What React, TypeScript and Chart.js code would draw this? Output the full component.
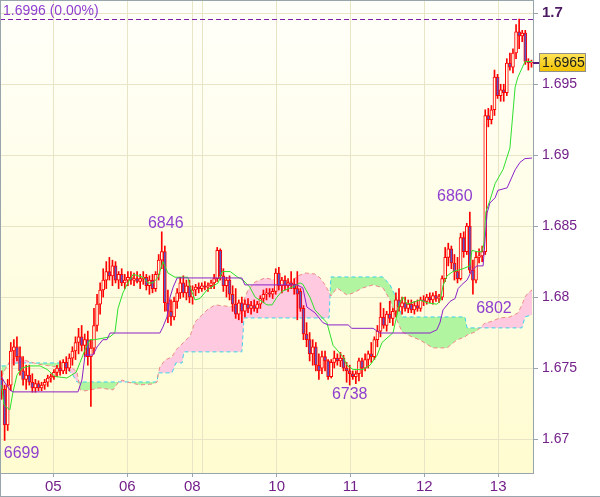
import React, { useEffect, useRef } from 'react';
import { Chart, registerables } from 'chart.js';
Chart.register(...registerables);

// ---- Hourly candles (bar index 0..172) ----
const opens = [
  1.6742,1.6735,1.6710,1.6738,1.6762,1.6765,1.6758,1.6748,1.6742,1.6745,
  1.6740,1.6736,1.6739,1.6736,1.6738,1.6740,1.6743,1.6744,1.6747,1.6750,
  1.6748,1.6754,1.6750,1.6757,1.6762,1.6768,1.6772,1.6766,1.6770,1.6758,
  1.6764,1.6780,1.6795,1.6805,1.6812,1.6818,1.6815,1.6822,1.6812,1.6816,
  1.6810,1.6812,1.6814,1.6812,1.6813,1.6811,1.6813,1.6814,1.6808,1.6812,
  1.6806,1.6816,1.6826,1.6832,1.6796,1.6790,1.6786,1.6797,1.6803,1.6810,
  1.6803,1.6808,1.6800,1.6805,1.6807,1.6806,1.6808,1.6807,1.6808,1.6810,
  1.6813,1.6833,1.6815,1.6808,1.6812,1.6802,1.6795,1.6788,1.6796,1.6790,
  1.6795,1.6792,1.6794,1.6792,1.6795,1.6799,1.6802,1.6803,1.6802,1.6804,
  1.6817,1.6808,1.6812,1.6808,1.6810,1.6809,1.6806,1.6804,1.6792,1.6774,
  1.6770,1.6760,1.6765,1.6752,1.6750,1.6758,1.6755,1.6744,1.6754,1.6757,
  1.6755,1.6757,1.6750,1.6748,1.6746,1.6744,1.6746,1.6755,1.6750,1.6756,
  1.6760,1.6758,1.6770,1.6776,1.6786,1.6780,1.6788,1.6785,1.6790,1.6798,
  1.6793,1.6796,1.6792,1.6795,1.6791,1.6794,1.6792,1.6798,1.6797,1.6800,
  1.6798,1.6801,1.6799,1.6800,1.6813,1.6828,1.6834,1.6824,1.6818,1.6813,
  1.6842,1.6832,1.6850,1.6819,1.6812,1.6828,1.6829,1.6832,1.6928,1.6925,
  1.6932,1.6955,1.6942,1.6946,1.6944,1.6965,1.6962,1.6972,1.6987,1.6984,
  1.6986,1.6966,1.6965,
];
const highs = [
  1.6748,1.6738,1.6742,1.6768,1.6770,1.6772,1.6765,1.6758,1.6752,1.6752,
  1.6746,1.6742,1.6741,1.6740,1.6742,1.6745,1.6746,1.6749,1.6752,1.6755,
  1.6756,1.6758,1.6760,1.6765,1.6772,1.6778,1.6780,1.6774,1.6776,1.6770,
  1.6792,1.6802,1.6810,1.6820,1.6825,1.6828,1.6826,1.6825,1.6818,1.6820,
  1.6816,1.6818,1.6818,1.6817,1.6818,1.6816,1.6818,1.6816,1.6815,1.6816,
  1.6818,1.6830,1.6846,1.6836,1.6805,1.6798,1.6800,1.6806,1.6814,1.6815,
  1.6812,1.6812,1.6808,1.6809,1.6810,1.6810,1.6811,1.6810,1.6812,1.6816,
  1.6835,1.6834,1.6820,1.6814,1.6815,1.6808,1.6806,1.6798,1.6800,1.6798,
  1.6799,1.6797,1.6798,1.6797,1.6801,1.6805,1.6806,1.6806,1.6806,1.6820,
  1.6821,1.6814,1.6815,1.6813,1.6818,1.6813,1.6818,1.6806,1.6794,1.6782,
  1.6775,1.6770,1.6768,1.6760,1.6762,1.6762,1.6756,1.6756,1.6762,1.6760,
  1.6761,1.6759,1.6754,1.6752,1.6748,1.6748,1.6757,1.6757,1.6760,1.6762,
  1.6768,1.6772,1.6780,1.6796,1.6792,1.6790,1.6797,1.6792,1.6803,1.6806,
  1.6800,1.6800,1.6798,1.6798,1.6797,1.6798,1.6800,1.6801,1.6802,1.6803,
  1.6803,1.6804,1.6802,1.6815,1.6835,1.6838,1.6836,1.6830,1.6828,1.6845,
  1.6846,1.6852,1.6860,1.6826,1.6832,1.6834,1.6836,1.6932,1.6933,1.6935,
  1.6960,1.6957,1.6950,1.6950,1.6968,1.6972,1.6975,1.6992,1.6996,1.6988,
  1.6988,1.6968,1.6967,
];
const lows = [
  1.6728,1.6699,1.6706,1.6734,1.6752,1.6755,1.6745,1.6738,1.6735,1.6738,
  1.6733,1.6733,1.6734,1.6734,1.6735,1.6737,1.6740,1.6742,1.6744,1.6745,
  1.6746,1.6746,1.6748,1.6752,1.6756,1.6760,1.6762,1.6758,1.6752,1.6723,
  1.6760,1.6776,1.6788,1.6800,1.6806,1.6812,1.6808,1.6810,1.6806,1.6808,
  1.6806,1.6808,1.6809,1.6808,1.6810,1.6806,1.6809,1.6805,1.6802,1.6803,
  1.6804,1.6812,1.6820,1.6790,1.6782,1.6780,1.6784,1.6792,1.6799,1.6800,
  1.6798,1.6796,1.6795,1.6801,1.6803,1.6804,1.6805,1.6804,1.6806,1.6806,
  1.6811,1.6812,1.6804,1.6800,1.6798,1.6790,1.6785,1.6784,1.6782,1.6786,
  1.6789,1.6788,1.6790,1.6789,1.6792,1.6796,1.6798,1.6800,1.6799,1.6802,
  1.6805,1.6803,1.6805,1.6804,1.6806,1.6802,1.6784,1.6790,1.6770,1.6765,
  1.6755,1.6752,1.6748,1.6742,1.6746,1.6748,1.6742,1.6743,1.6750,1.6752,
  1.6751,1.6748,1.6740,1.6738,1.6742,1.6739,1.6741,1.6744,1.6748,1.6750,
  1.6754,1.6756,1.6765,1.6772,1.6778,1.6776,1.6782,1.6780,1.6786,1.6790,
  1.6788,1.6790,1.6789,1.6789,1.6788,1.6790,1.6790,1.6794,1.6795,1.6796,
  1.6795,1.6797,1.6796,1.6798,1.6811,1.6822,1.6820,1.6812,1.6810,1.6812,
  1.6828,1.6830,1.6817,1.6802,1.6810,1.6824,1.6825,1.6830,1.6920,1.6922,
  1.6928,1.6940,1.6938,1.6938,1.6942,1.6960,1.6958,1.6968,1.6975,1.6980,
  1.6964,1.6960,1.6962,
];
const closes = [
  1.6735,1.6710,1.6738,1.6762,1.6765,1.6758,1.6748,1.6742,1.6745,1.6740,
  1.6736,1.6739,1.6736,1.6738,1.6740,1.6743,1.6744,1.6747,1.6750,1.6748,
  1.6754,1.6750,1.6757,1.6762,1.6768,1.6772,1.6766,1.6770,1.6758,1.6764,
  1.6780,1.6795,1.6805,1.6812,1.6818,1.6815,1.6822,1.6812,1.6816,1.6810,
  1.6812,1.6814,1.6812,1.6813,1.6811,1.6813,1.6814,1.6808,1.6812,1.6806,
  1.6816,1.6826,1.6832,1.6796,1.6790,1.6786,1.6797,1.6803,1.6810,1.6803,
  1.6808,1.6800,1.6805,1.6807,1.6806,1.6808,1.6807,1.6808,1.6810,1.6813,
  1.6833,1.6815,1.6808,1.6812,1.6802,1.6795,1.6788,1.6796,1.6790,1.6795,
  1.6792,1.6794,1.6792,1.6795,1.6799,1.6802,1.6803,1.6802,1.6804,1.6817,
  1.6808,1.6812,1.6808,1.6810,1.6809,1.6806,1.6802,1.6792,1.6774,1.6770,
  1.6760,1.6765,1.6752,1.6748,1.6758,1.6755,1.6744,1.6754,1.6757,1.6755,
  1.6757,1.6750,1.6748,1.6746,1.6744,1.6746,1.6755,1.6750,1.6756,1.6760,
  1.6758,1.6770,1.6776,1.6786,1.6780,1.6788,1.6785,1.6790,1.6798,1.6793,
  1.6796,1.6792,1.6795,1.6791,1.6794,1.6792,1.6798,1.6797,1.6800,1.6798,
  1.6801,1.6799,1.6800,1.6813,1.6828,1.6834,1.6824,1.6818,1.6813,1.6842,
  1.6832,1.6850,1.6819,1.6812,1.6828,1.6829,1.6832,1.6928,1.6925,1.6932,
  1.6955,1.6942,1.6946,1.6944,1.6965,1.6962,1.6972,1.6987,1.6984,1.6986,
  1.6966,1.6965,1.6965,
];

// ---- Tenkan (green) ----
const tenkanIdx = [0,0.8,2.7,3.7,5.0,6.6,9.2,12.5,14.8,17.4,21.2,24.2,25.5,27.1,28.7,30.3,35.2,36.8,37.8,39.4,41.0,42.7,45.9,47.5,49.2,50.8,52.4,54.0,56.3,60.5,61.2,62.8,64.4,66.7,70.3,71.6,74.2,76.7,78.4,80.6,82.3,86.2,87.8,89.4,91.0,94.3,96.9,97.8,100.1,101.7,105.6,107.6,110.8,112.1,114.1,117.3,119.6,121.9,123.5,126.1,127.1,128.7,129.3,130.3,131.6,133.2,135.8,138.1,141.3,142.3,143.3,144.6,146.5,149.8,152.0,152.7,154.3,155.9,156.6,157.2,158.5,160.2,162.8,165.0,166.7,167.6,169.9,172.2];
const tenkanVal = [1.6738,1.6724,1.67205,1.6733,1.6745,1.6750,1.67515,1.67515,1.6749,1.6744,1.6743,1.6747,1.6754,1.6763,1.6770,1.6770,1.6772,1.6775,1.6792,1.6803,1.6810,1.6816,1.6814,1.6810,1.6810,1.6814,1.6825,1.6817,1.6814,1.6814,1.6807,1.6798,1.6799,1.6805,1.6810,1.6818,1.6818,1.6814,1.6812,1.6807,1.6800,1.67945,1.67945,1.6800,1.6804,1.6807,1.6810,1.6809,1.6800,1.6791,1.6782,1.6766,1.6758,1.6752,1.6749,1.6749,1.6752,1.6759,1.6768,1.6773,1.6775,1.6791,1.6796,1.6800,1.6795,1.6796,1.6798,1.6796,1.6795,1.6797,1.6808,1.6815,1.6818,1.6820,1.6822,1.6833,1.6832,1.6832,1.6838,1.6860,1.6868,1.6880,1.6890,1.6905,1.6948,1.6955,1.6966,1.6966];

// ---- Kijun (purple) ----
const kijunIdx = [0,1.1,2.7,3.7,24.8,26.1,27.1,29.7,31.0,32.9,34.2,35.2,51.4,52.4,53.7,54.7,55.7,57.0,78.0,79.0,95.9,97.8,99.1,101.7,104.3,106.0,112.5,113.7,120.6,122.8,139.1,141.3,142.3,143.3,145.6,147.2,148.2,149.5,151.1,152.7,154.3,156.3,157.6,158.5,160.2,161.1,164.1,166.7,168.3,169.9,172.2];
const kijunVal = [1.67437,1.67395,1.67346,1.67332,1.67332,1.67416,1.67592,1.67592,1.67649,1.6770,1.6770,1.67747,1.67747,1.6779,1.6786,1.6800,1.6807,1.68135,1.68135,1.68086,1.68086,1.68065,1.6793,1.6789,1.6782,1.67804,1.67804,1.6778,1.6778,1.67747,1.67747,1.6777,1.6782,1.6791,1.6797,1.6799,1.6806,1.6809,1.6812,1.6819,1.6822,1.6822,1.68593,1.68663,1.6870,1.68752,1.6877,1.68897,1.6895,1.68976,1.6898];

// ---- Cloud (Senkou span A cyan, span B salmon) ----
const cloudIdx = [0,1.1,2.7,5.0,8.3,11.5,15.7,19.6,20.9,22.9,24.5,25.5,27.1,28.7,31.9,36.2,37.8,39.1,40.7,44.9,49.2,50.5,50.8,51.4,53.1,55.3,56.6,58.6,59.2,61.2,62.8,64.4,66.7,69.3,75.1,78.0,78.7,80.0,82.3,85.5,88.8,92.0,94.3,96.2,98.5,101.7,103.4,105.0,106.3,106.9,108.9,112.1,114.1,117.3,120.6,123.8,126.1,128.0,130.0,132.6,135.8,140.0,144.6,147.8,150.4,151.1,153.7,155.3,156.9,158.5,161.8,165.0,167.6,168.9,169.9,170.9,172.2];
const spanA = [1.67515,1.67515,1.67529,1.67536,1.67536,1.67536,1.67536,1.67536,1.67501,1.67459,1.67402,1.67402,1.67402,1.67402,1.67402,1.67402,1.67402,1.67402,1.67402,1.67402,1.67402,1.67402,1.67466,1.67466,1.67466,1.67466,1.67536,1.67536,1.67614,1.67614,1.67614,1.67614,1.67614,1.67614,1.67614,1.67614,1.67853,1.67853,1.67853,1.67853,1.67853,1.67853,1.67853,1.67853,1.67853,1.67853,1.67853,1.67853,1.67853,1.68142,1.68142,1.68142,1.68142,1.68142,1.68142,1.68142,1.68086,1.68001,1.67860,1.67860,1.67860,1.67860,1.67860,1.67860,1.67860,1.67783,1.67783,1.67783,1.67783,1.67783,1.67783,1.67783,1.67783,1.67783,1.67860,1.67867,1.67874];
const spanB = [1.67437,1.67487,1.67550,1.67578,1.67550,1.67529,1.67515,1.67501,1.67515,1.67501,1.67473,1.67346,1.67339,1.67346,1.67360,1.67346,1.67395,1.67416,1.67402,1.67381,1.67388,1.67402,1.67451,1.67508,1.67557,1.67578,1.67628,1.67670,1.67684,1.67726,1.67825,1.67860,1.67910,1.67945,1.67931,1.67910,1.67980,1.68050,1.68107,1.68135,1.68121,1.68093,1.68114,1.68149,1.68170,1.68163,1.68135,1.68086,1.68036,1.68008,1.68065,1.68015,1.68029,1.68065,1.68086,1.68065,1.67980,1.67853,1.67754,1.67726,1.67698,1.67642,1.67642,1.67698,1.67719,1.67733,1.67754,1.67783,1.67818,1.67825,1.67853,1.67860,1.67888,1.67945,1.68001,1.68029,1.68050];

// ---- Axis ticks ----
const yTickValues = [1.67, 1.675, 1.68, 1.685, 1.69, 1.695, 1.7];
const yTickLabels = ['1.67', '1.675', '1.68', '1.685', '1.69', '1.695', '1.7'];
const xTickPositions = [16.8, 40.8, 61.9, 65.2, 89.3, 113.3, 137.2, 161.2];
const xTickLabels = ['05', '06', '08', '', '10', '11', '12', '13'];

// ---- Marked extremes ----
const markBars = [1, 52, 113, 152, 153];
const markKinds = ['low', 'high', 'low', 'high', 'low'];
const markTexts = ['6699', '6846', '6738', '6860', '6802'];

const Y_MIN = 1.667604;
const Y_MAX = 1.700937;
const X_MIN = -0.5;
const X_MAX = 172.5;

const FONT = '"Liberation Sans", Arial, Helvetica, sans-serif';
const GRID = '#e7e5c6';
const AXIS = '#98a5ad';
const LABEL = '#74208a';
const MARK = '#8f3fcf';
const markOffsets = [[17, 13], [4, -8], [0, 10], [-15, -15], [21, 14]];

export default function App() {
  const ref = useRef<HTMLCanvasElement>(null);

  useEffect(() => {
    document.body.style.margin = '0';
    const canvas = ref.current;
    if (!canvas) return;
    const n = closes.length;
    const idx = closes.map((_, i) => i);
    const bodies = idx.map((i) => ({ x: i, y: [opens[i], closes[i]] }));
    const wicks = idx.map((i) => ({ x: i, y: [lows[i], highs[i]] }));
    const bodyColors = idx.map((i) => (closes[i] >= opens[i] ? '#fffde4' : '#5b55c8'));
    const pts = (xs: number[], ys: number[]) => xs.map((x, k) => ({ x, y: ys[k] }));
    const maxHigh = Math.max(...highs);
    const lastClose = closes[n - 1];

    const decor = {
      id: 'decor',
      beforeDraw(chart: any) {
        const { ctx, chartArea: a } = chart;
        ctx.save();
        ctx.fillStyle = '#ffffff';
        ctx.fillRect(0, 0, chart.width, chart.height);
        const g = ctx.createLinearGradient(0, a.top, 0, a.bottom);
        g.addColorStop(0, '#fffffa');
        g.addColorStop(1, '#fffcd0');
        ctx.fillStyle = g;
        ctx.fillRect(a.left, a.top, a.right - a.left, a.bottom - a.top);
        ctx.restore();
      },
      afterDraw(chart: any) {
        const { ctx, chartArea: a } = chart;
        const xs = chart.scales.x;
        const ys = chart.scales.y;
        ctx.save();
        // max-high dashed line
        const yMax = Math.round(ys.getPixelForValue(maxHigh)) + 0.5;
        ctx.strokeStyle = '#7d1fa8';
        ctx.lineWidth = 1;
        ctx.setLineDash([5, 3]);
        ctx.beginPath();
        ctx.moveTo(a.left, yMax);
        ctx.lineTo(a.right, yMax);
        ctx.stroke();
        ctx.setLineDash([]);
        ctx.font = '14px ' + FONT;
        ctx.fillStyle = MARK;
        ctx.textAlign = 'left';
        ctx.textBaseline = 'middle';
        ctx.fillText(maxHigh.toFixed(4) + ' (0.00%)', 3, 11.5);

        // extreme marks
        ctx.font = '16px ' + FONT;
        ctx.textAlign = 'center';
        markBars.forEach((b, k) => {
          const price = markKinds[k] === 'high' ? highs[b] : lows[b];
          const px = xs.getPixelForValue(b) + markOffsets[k][0];
          const py = ys.getPixelForValue(price) + markOffsets[k][1];
          ctx.fillText(markTexts[k], px, py);
        });

        // frame
        ctx.strokeStyle = AXIS;
        ctx.lineWidth = 1;
        ctx.strokeRect(a.left + 0.5, a.top + 0.5, a.right - a.left, a.bottom - a.top);
        ctx.beginPath();
        ctx.moveTo(0, chart.height - 0.5);
        ctx.lineTo(chart.width, chart.height - 0.5);
        ctx.moveTo(0.5, 0);
        ctx.lineTo(0.5, chart.height);
        ctx.stroke();

        // last price tag
        const yc = Math.round(ys.getPixelForValue(lastClose));
        ctx.strokeStyle = '#5a1a78';
        ctx.lineWidth = 2;
        ctx.beginPath();
        ctx.moveTo(a.right, yc);
        ctx.lineTo(a.right + 6, yc);
        ctx.stroke();
        const bx = a.right + 6.5;
        const by = yc - 9.5;
        const bg = ctx.createLinearGradient(0, by, 0, by + 18);
        bg.addColorStop(0, '#ffe45a');
        bg.addColorStop(1, '#f2c200');
        ctx.fillStyle = bg;
        ctx.fillRect(bx, by, 46, 18);
        ctx.strokeStyle = '#8e8e8e';
        ctx.lineWidth = 1;
        ctx.strokeRect(bx, by, 46, 18);
        ctx.fillStyle = '#1a1a1a';
        ctx.font = '14px ' + FONT;
        ctx.textAlign = 'left';
        ctx.textBaseline = 'middle';
        ctx.fillText(lastClose.toFixed(4), bx + 2.5, yc + 0.5);
        ctx.restore();
      },
    };

    const chart = new Chart(canvas, {
      type: 'bar',
      data: {
        datasets: [
          {
            type: 'line', label: 'Kijun', data: pts(kijunIdx, kijunVal),
            borderColor: '#8b22c8', borderWidth: 1, pointRadius: 0, tension: 0, fill: false, order: 0,
          },
          {
            type: 'line', label: 'Tenkan', data: pts(tenkanIdx, tenkanVal),
            borderColor: '#2ee02e', borderWidth: 1, pointRadius: 0, tension: 0, fill: false, order: 1,
          },
          {
            type: 'bar', label: 'Body', data: bodies as any, backgroundColor: bodyColors,
            borderColor: '#ff0000', borderWidth: 1, borderSkipped: false, barThickness: 3,
            minBarLength: 1, grouped: false, order: 2,
          },
          {
            type: 'bar', label: 'Wick', data: wicks as any, backgroundColor: '#ff0000',
            borderWidth: 0, barThickness: 1, grouped: false, order: 3,
          },
          {
            type: 'line', label: 'Span B', data: pts(cloudIdx, spanB),
            borderColor: '#f08a8a', borderDash: [4, 3], borderWidth: 1, pointRadius: 0, tension: 0, fill: false, order: 4,
          },
          {
            type: 'line', label: 'Span A', data: pts(cloudIdx, spanA),
            borderColor: '#3ad2ec', borderDash: [4, 3], borderWidth: 1, pointRadius: 0, tension: 0,
            fill: { target: 4, above: '#b2f5a0', below: '#ffc9e0' }, order: 5,
          },
        ] as any,
      },
      options: {
        responsive: false,
        animation: false,
        events: [],
        layout: { padding: 0 },
        plugins: { legend: { display: false }, tooltip: { enabled: false } },
        scales: {
          x: {
            type: 'linear', min: X_MIN, max: X_MAX, offset: false,
            afterBuildTicks: (s: any) => { s.ticks = xTickPositions.map((v) => ({ value: v })); },
            afterFit: (s: any) => { s.height = 24; s.paddingLeft = 0; s.paddingRight = 0; },
            grid: {
              color: GRID, offset: false, drawTicks: true, tickLength: 4,
              tickColor: (c: any) => (xTickLabels[c.index] ? AXIS : 'rgba(0,0,0,0)'),
            },
            border: { display: false },
            ticks: {
              autoSkip: false, maxRotation: 0, minRotation: 0, padding: 1, color: LABEL,
              font: { family: FONT, size: 15 },
              callback: (_v: any, i: number) => xTickLabels[i],
            },
          },
          y: {
            type: 'linear', position: 'right', min: Y_MIN, max: Y_MAX,
            afterBuildTicks: (s: any) => { s.ticks = yTickValues.map((v) => ({ value: v })); },
            afterFit: (s: any) => { s.width = 67; s.paddingTop = 0; s.paddingBottom = 0; },
            grid: { color: GRID, tickLength: 5, tickColor: AXIS },
            border: { display: false },
            ticks: {
              padding: 4,
              color: (c: any) => (yTickLabels[c.index] === '1.7' ? '#4b1a63' : LABEL),
              font: (c: any) => (yTickLabels[c.index] === '1.7'
                ? { family: FONT, size: 15, weight: 'bold' }
                : { family: FONT, size: 14 }),
              callback: (_v: any, i: number) => yTickLabels[i],
            },
          },
        },
      } as any,
      plugins: [decor],
    });

    return () => chart.destroy();
  }, []);

  return (
    <div style={{ width: 600, height: 497 }}>
      <canvas ref={ref} width={600} height={497} style={{ display: 'block' }} />
    </div>
  );
}
